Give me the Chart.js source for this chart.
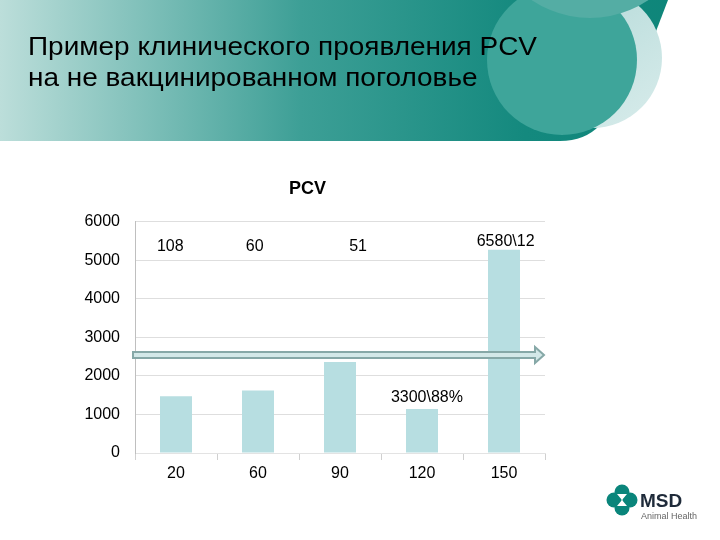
<!DOCTYPE html>
<html>
<head>
<meta charset="utf-8">
<script src="https://cdn.jsdelivr.net/npm/chart.js@4.4.0/dist/chart.umd.min.js"></script>
<style>
body{margin:0;width:720px;height:540px;background:#fff;position:relative;overflow:hidden;font-family:"Liberation Sans",Arial,sans-serif}
#bg{position:absolute;left:0;top:0}
#wrap{position:absolute;left:70px;top:170px;width:492px;height:320px}
</style>
</head>
<body>
<canvas id="bg" width="720" height="540"></canvas>
<div id="wrap"><canvas id="mycanvas"></canvas></div>
<script>
// data
var days = ["20", "60", "90", "120", "150"];
var pcv = [1470, 1620, 2360, 1140, 5270];
var yTicks = [0, 1000, 2000, 3000, 4000, 5000, 6000];
var notes = ["108", "60", "51", "3300\\88%", "6580\\12"];
var noteValues = [5360, 5360, 5360, 1430, 5490];
var arrowLevel = 2540;

var FONT = '"Liberation Sans", Arial, sans-serif';

// slide header + logo
function drawSlide() {
	var c = document.getElementById("bg").getContext("2d");
	var g = c.createLinearGradient(0, 0, 700, 0);
	g.addColorStop(0, "#bcdeda");
	g.addColorStop(0.43, "#3d9f96");
	g.addColorStop(0.75, "#14897e");
	g.addColorStop(1, "#0d8579");

	c.fillStyle = g;
	c.beginPath();
	c.moveTo(0, 0);
	c.lineTo(668, 0);
	c.lineTo(645, 60);
	c.lineTo(600, 125);
	c.quadraticCurveTo(585, 141, 560, 141);
	c.lineTo(0, 141);
	c.closePath();
	c.fill();

	var lg = c.createLinearGradient(560, 20, 640, 130);
	lg.addColorStop(0, "#b9dcdb");
	lg.addColorStop(1, "#d6ebea");
	c.fillStyle = lg;
	c.beginPath(); c.arc(592, 58, 70, 0, Math.PI * 2); c.fill();

	c.fillStyle = "#3ea59a";
	c.beginPath(); c.arc(562, 60, 75, 0, Math.PI * 2); c.fill();
	c.fillStyle = "#54ada4";
	c.beginPath(); c.arc(590, -86, 104, 0, Math.PI * 2); c.fill();

	c.fillStyle = "#000";
	c.font = "25px " + FONT;
	c.textBaseline = "alphabetic";
	var l1 = "Пример клинического проявления PCV";
	var l2 = "на не вакцинированном поголовье";
	var sx = 509 / c.measureText(l1).width;
	c.save(); c.translate(28, 55); c.scale(sx, 1); c.fillText(l1, 0, 0); c.restore();
	c.save(); c.translate(28, 86); c.scale(sx, 1); c.fillText(l2, 0, 0); c.restore();

	// MSD logo
	c.fillStyle = "#0a857b";
	[[622, 492], [622, 508], [614, 500], [630, 500]].forEach(function(p) {
		c.beginPath(); c.arc(p[0], p[1], 7.5, 0, Math.PI * 2); c.fill();
	});
	c.fillStyle = "#fff";
	c.beginPath();
	c.moveTo(617, 494); c.lineTo(627, 494); c.lineTo(622, 500); c.lineTo(627, 506); c.lineTo(617, 506); c.lineTo(622, 500);
	c.closePath(); c.fill();
	c.fillStyle = "#1f2b3a";
	c.font = "bold 19px " + FONT;
	c.fillText("MSD", 640, 507);
	c.fillStyle = "#666";
	c.font = "9px " + FONT;
	c.fillText("Animal Health", 641, 519);
}
drawSlide();

// arrow + text notes on top of the bars
var notesPlugin = {
	id: "notes",
	afterDatasetsDraw: function(chart) {
		var ctx = chart.ctx, x = chart.scales.x, y = chart.scales.y, a = chart.chartArea;
		var shift = [-0.07, -0.04, 0.22, 0.06, 0.02];
		var step = x.getPixelForValue(1) - x.getPixelForValue(0);

		var ay = y.getPixelForValue(arrowLevel);
		var x0 = a.left - 2, x1 = a.right - 2;
		ctx.save();
		ctx.beginPath();
		ctx.moveTo(x0, ay - 3);
		ctx.lineTo(x1 - 8, ay - 3);
		ctx.lineTo(x1 - 8, ay - 8);
		ctx.lineTo(x1 + 1, ay);
		ctx.lineTo(x1 - 8, ay + 8);
		ctx.lineTo(x1 - 8, ay + 3);
		ctx.lineTo(x0, ay + 3);
		ctx.closePath();
		ctx.fillStyle = "#d3e8e8";
		ctx.fill();
		ctx.lineWidth = 2;
		ctx.strokeStyle = "#86a8a7";
		ctx.stroke();

		ctx.fillStyle = "#000";
		ctx.font = "16px " + FONT;
		ctx.textAlign = "center";
		ctx.textBaseline = "middle";
		notes.forEach(function(t, i) {
			ctx.fillText(t, x.getPixelForValue(i) + shift[i] * step, y.getPixelForValue(noteValues[i]));
		});
		ctx.restore();
	}
};

var ctx = document.getElementById("mycanvas");
var chart = new Chart(ctx, {
	type: "bar",
	data: {
		labels: days,
		datasets: [{
			label: "PCV",
			data: pcv,
			backgroundColor: "#b7dee1",
			borderWidth: 0,
			barPercentage: 0.39,
			categoryPercentage: 1
		}]
	},
	options: {
		responsive: true,
		maintainAspectRatio: false,
		animation: false,
		layout: { padding: { left: 0, right: 17, top: 0, bottom: 0 } },
		plugins: {
			legend: { display: false },
			tooltip: { enabled: false },
			title: {
				display: true,
				text: "PCV",
				color: "#000",
				font: { size: 18, weight: "bold", family: FONT },
				padding: { top: 8, bottom: 22 }
			}
		},
		scales: {
			x: {
				grid: { offset: true, drawOnChartArea: false, color: "#d0d0d0", tickLength: 7 },
				border: { color: "#e3e3e3" },
				ticks: { color: "#000", font: { size: 16, family: FONT }, padding: 4 },
				afterFit: function(s) { s.height = 37; }
			},
			y: {
				min: 0,
				max: 6000,
				afterBuildTicks: function(s) { s.ticks = yTicks.map(function(v) { return { value: v }; }); },
				grid: { color: "#dedede", drawTicks: false },
				border: { color: "#bfbfbf" },
				ticks: {
					color: "#000",
					font: { size: 16, family: FONT },
					padding: 15,
					callback: function(v) { return String(v); }
				},
				afterFit: function(s) { s.width = 65; }
			}
		}
	},
	plugins: [notesPlugin]
});
</script>
</body>
</html>
